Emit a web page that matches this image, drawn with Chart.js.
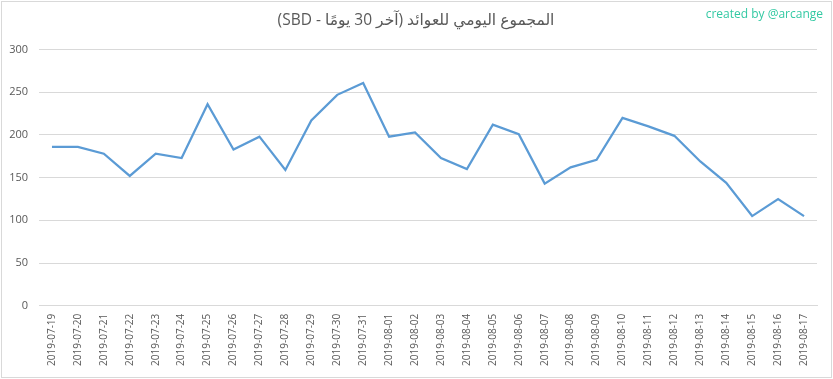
<!DOCTYPE html>
<html>
<head>
<meta charset="utf-8">
<script src="https://cdn.jsdelivr.net/npm/chart.js@4.4.1/dist/chart.umd.min.js"></script>
<style>
  html, body { margin: 0; padding: 0; background: #ffffff; }
  #wrap { width: 833px; height: 379px; position: relative; }
</style>
</head>
<body>
<div id="wrap"><canvas id="c" width="833" height="379"></canvas></div>
<script>
const categories = [
  "2019-07-19","2019-07-20","2019-07-21","2019-07-22","2019-07-23","2019-07-24",
  "2019-07-25","2019-07-26","2019-07-27","2019-07-28","2019-07-29","2019-07-30",
  "2019-07-31","2019-08-01","2019-08-02","2019-08-03","2019-08-04","2019-08-05",
  "2019-08-06","2019-08-07","2019-08-08","2019-08-09","2019-08-10","2019-08-11",
  "2019-08-12","2019-08-13","2019-08-14","2019-08-15","2019-08-16","2019-08-17"
];
const dailyTotals = [
  186, 186, 178, 152, 178, 173,
  236, 183, 198, 159, 217, 247,
  261, 198, 203, 173, 160, 212,
  201, 143, 162, 171, 220, 210,
  199, 169, 144, 105, 125, 105
];
const yTicks = [0, 50, 100, 150, 200, 250, 300];
const titleText = "المجموع اليومي للعوائد (آخر 30 يومًا - SBD)";
const watermarkText = "created by @arcange";

const FONT = "'Open Sans', 'DejaVu Sans', sans-serif";

const decorPlugin = {
  id: 'decor',
  beforeDraw(chart) {
    const ctx = chart.ctx;
    ctx.save();
    ctx.fillStyle = '#ffffff';
    ctx.fillRect(0, 0, chart.width, chart.height);
    ctx.strokeStyle = '#d9d9d9';
    ctx.lineWidth = 1;
    ctx.strokeRect(1.5, 1.5, 830, 376);
    ctx.restore();
  },
  afterDraw(chart) {
    const ctx = chart.ctx;
    ctx.save();
    ctx.fillStyle = '#595959';
    ctx.font = "15.5px " + FONT;
    ctx.textAlign = 'center';
    ctx.textBaseline = 'middle';
    ctx.direction = 'rtl';
    ctx.fillText(titleText, 416, 21);
    ctx.direction = 'ltr';
    ctx.fillStyle = '#33c9a3';
    ctx.font = "12px " + FONT;
    ctx.textAlign = 'right';
    ctx.fillText(watermarkText, 823, 15);
    ctx.restore();
  }
};

new Chart(document.getElementById('c'), {
  type: 'line',
  data: {
    labels: categories,
    datasets: [{
      data: dailyTotals,
      borderColor: '#5b9bd5',
      borderWidth: 2.25,
      pointRadius: 0,
      tension: 0,
      fill: false
    }]
  },
  options: {
    responsive: false,
    animation: false,
    devicePixelRatio: 1,
    layout: { padding: { top: 49.6, right: 16, bottom: 0, left: 0 } },
    plugins: { legend: { display: false }, title: { display: false }, tooltip: { enabled: false } },
    scales: {
      x: {
        offset: true,
        grid: { display: false, drawTicks: false },
        border: { display: true, color: '#d9d9d9', width: 1 },
        ticks: {
          autoSkip: false,
          maxRotation: 90,
          minRotation: 90,
          padding: 8,
          color: '#595959',
          font: { family: FONT, size: 10 }
        },
        afterFit(scale) { scale.height = 73.3; }
      },
      y: {
        min: 0,
        max: 300,
        afterBuildTicks(scale) { scale.ticks = yTicks.map(v => ({ value: v })); },
        grid: { color: '#d9d9d9', drawTicks: false, lineWidth: 1 },
        border: { display: false },
        ticks: {
          padding: 11,
          color: '#595959',
          font: { family: FONT, size: 11 }
        },
        afterFit(scale) { scale.width = 39; }
      }
    }
  },
  plugins: [decorPlugin]
});
</script>
</body>
</html>
